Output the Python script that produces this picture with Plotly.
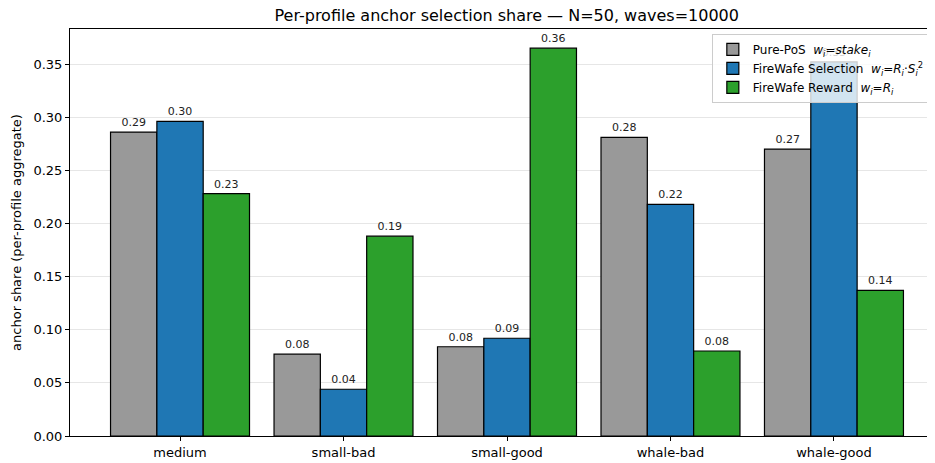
import plotly.graph_objects as go

profiles = ["medium", "small-bad", "small-good", "whale-bad", "whale-good"]
pure_pos = [0.286, 0.077, 0.084, 0.281, 0.270]
fw_selection = [0.296, 0.044, 0.092, 0.218, 0.352]
fw_reward = [0.228, 0.188, 0.365, 0.080, 0.137]

series = [
    ("Pure-PoS  <i>w</i><sub><i>i</i></sub>=<i>stake</i><sub><i>i</i></sub>", pure_pos, "#999999"),
    ("FireWafe Selection  <i>w</i><sub><i>i</i></sub>=<i>R</i><sub><i>i</i></sub>·<i>S</i><sub><i>i</i></sub><sup>2</sup>", fw_selection, "#1f77b4"),
    ("FireWafe Reward  <i>w</i><sub><i>i</i></sub>=<i>R</i><sub><i>i</i></sub>", fw_reward, "#2ca02c"),
]

# the page body adds an 8px offset, so the figure is sized to fit inside the window
fig = go.Figure()
for name, vals, color in series:
    fig.add_trace(
        go.Bar(
            x=profiles,
            y=vals,
            name=name,
            marker=dict(color=color, line=dict(color="black", width=1.2)),
            text=[f"{v:.2f}" for v in vals],
            textposition="outside",
            textfont=dict(size=11, color="#222"),
            cliponaxis=False,
        )
    )

fig.update_layout(
    title=dict(
        text="Per-profile anchor selection share — N=50, waves=10000",
        xref="container", x=0.538, xanchor="center",
        yref="container", y=0.996, yanchor="top",
        pad=dict(t=0, b=0),
        font=dict(size=16, color="black"),
    ),
    font=dict(family="DejaVu Sans", color="black"),
    barmode="group",
    bargap=0.15,
    bargroupgap=0,
    width=927,
    height=455,
    margin=dict(l=62, r=0, t=21, b=27, autoexpand=False),
    plot_bgcolor="white",
    paper_bgcolor="white",
    legend=dict(
        x=0.742, y=0.988, xanchor="left", yanchor="top",
        bgcolor="rgba(255,255,255,0.8)",
        bordercolor="#cccccc", borderwidth=1,
        font=dict(size=12),
        tracegroupgap=0,
    ),
)
fig.update_xaxes(
    range=[-0.673, 4.618],
    showline=True, linecolor="black", linewidth=1, mirror=True,
    ticks="outside", ticklen=4, tickcolor="black",
    tickfont=dict(size=13),
    showgrid=False,
    automargin=False,
)
fig.update_yaxes(
    range=[0, 0.383],
    dtick=0.05, tickformat=".2f",
    showline=True, linecolor="black", linewidth=1, mirror=False,
    ticks="outside", ticklen=4, tickcolor="black",
    tickfont=dict(size=13),
    showgrid=True, gridcolor="#e6e6e6", gridwidth=1,
    zeroline=False,
    automargin=False,
    title=dict(text="anchor share (per-profile aggregate)", font=dict(size=13), standoff=8),
)

fig.write_html("out.html")
